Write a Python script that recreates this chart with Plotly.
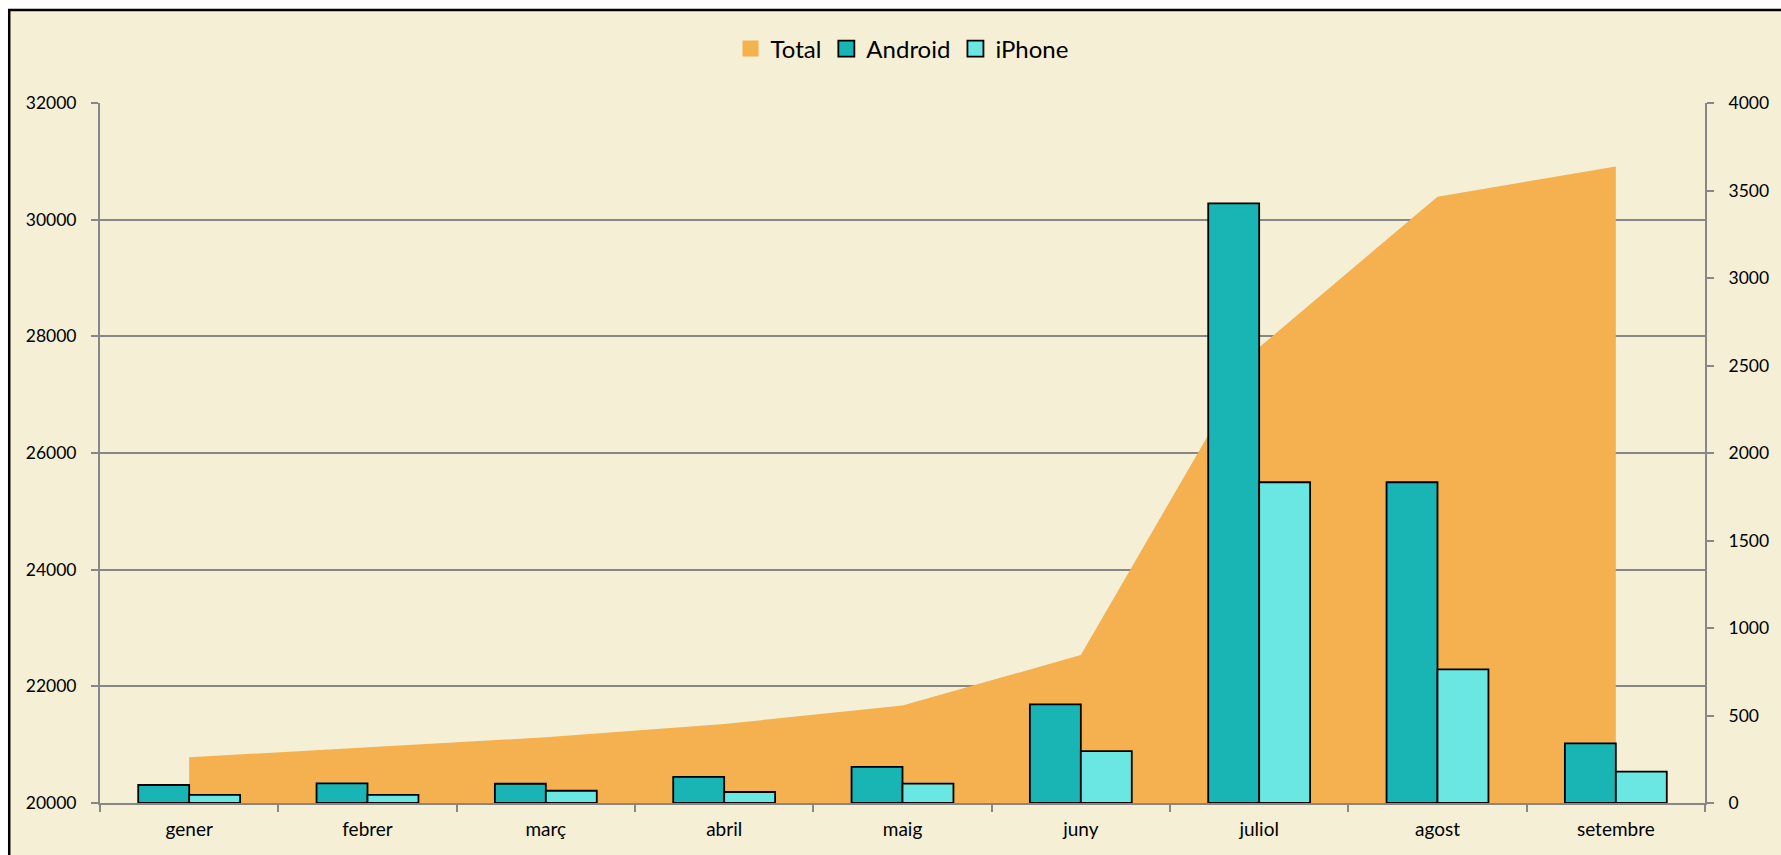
import plotly.graph_objects as go

months = ["gener", "febrer", "març", "abril", "maig", "juny", "juliol", "agost", "setembre"]
total = [20783, 20948, 21126, 21354, 21670, 22537, 27812, 30394, 30910]
android = [103, 112, 110, 149, 206, 564, 3427, 1833, 341]
iphone = [46, 46, 70, 63, 111, 297, 1833, 764, 179]

left_ticks = [20000, 22000, 24000, 26000, 28000, 30000, 32000]
left_labels = ["20000", "22000", "24000", "26000", "28000", "30000", "32000"]
right_ticks = [0, 500, 1000, 1500, 2000, 2500, 3000, 3500, 4000]
right_labels = ["0", "500", "1000", "1500", "2000", "2500", "3000", "3500", "4000"]

C_TOTAL = "#F5B050"
C_ANDROID = "#19B5B5"
C_IPHONE = "#6AE7E2"
BG = "#F5EFD5"
GRID = "#878787"

W, H = 1781, 855
L = 100
T = 103
R = W - 1709
B = H - 803
pw, ph = W - L - R, H - T - B


def px_x(p):
    return (p - L) / pw


def px_y(p):
    return ((H - B) - p) / ph


fig = go.Figure()

# Total area on left axis
fig.add_trace(go.Scatter(
    x=months, y=total, name="Total", mode="lines",
    fill="tozeroy", fillcolor=C_TOTAL, line=dict(width=0, color=C_TOTAL),
    showlegend=False, xaxis="x", yaxis="y", hoverinfo="x+y",
))
fig.add_trace(go.Bar(
    x=months, y=android, name="Android",
    marker=dict(color=C_ANDROID, line=dict(color="black", width=1.8)),
    xaxis="x", yaxis="y2", showlegend=False,
))
fig.add_trace(go.Bar(
    x=months, y=iphone, name="iPhone",
    marker=dict(color=C_IPHONE, line=dict(color="black", width=1.8)),
    xaxis="x", yaxis="y2", showlegend=False,
))

# legend entries (square swatches)
for name, col, lw in [("Total", C_TOTAL, 0), ("Android", C_ANDROID, 1.8), ("iPhone", C_IPHONE, 1.8)]:
    fig.add_trace(go.Scatter(
        x=[months[0]], y=[None], name=name, mode="markers",
        marker=dict(symbol="square", size=16, color=col, line=dict(color="black", width=lw)),
        xaxis="x", yaxis="y2", showlegend=True,
    ))

fig.update_layout(
    width=W, height=H, autosize=False,
    margin=dict(l=L, r=R, t=T, b=B, pad=0),
    paper_bgcolor="white",
    plot_bgcolor="rgba(0,0,0,0)",
    font=dict(family="Lato", size=19, color="black"),
    barmode="group", bargap=0.4286, bargroupgap=0,
    showlegend=True,
    legend=dict(
        orientation="h", x=px_x(904), xanchor="center", y=px_y(49), yanchor="middle",
        font=dict(size=24, color="black"), bgcolor="rgba(0,0,0,0)",
        traceorder="normal", itemclick=False, itemsizing="trace", itemwidth=30,
    ),
    xaxis=dict(
        type="category", tickson="boundaries", ticks="outside", ticklen=7,
        tickcolor=GRID, tickwidth=1.5, showline=True, linecolor=GRID, linewidth=2,
        showgrid=False, ticklabelstandoff=8, range=[-0.5, 8.5],
    ),
    yaxis=dict(
        range=[20000, 32000], tickvals=left_ticks, ticktext=left_labels,
        ticks="outside", ticklen=7, tickfont=dict(size=17.5),
        tickcolor=GRID, tickwidth=1.5, showline=True, linecolor=GRID, linewidth=2,
        showgrid=True, gridcolor=GRID, gridwidth=1.5, zeroline=False,
        ticklabelstandoff=11,
    ),
    yaxis2=dict(
        range=[0, 4000], tickvals=right_ticks, ticktext=right_labels,
        overlaying="y", side="right", tickfont=dict(size=17.5),
        ticks="outside", ticklen=7, tickcolor=GRID, tickwidth=1.5,
        showline=True, linecolor=GRID, linewidth=2, showgrid=False, zeroline=False,
        ticklabelstandoff=11,
    ),
    shapes=[dict(
        type="rect", xref="paper", yref="paper", layer="below",
        x0=px_x(9), x1=px_x(1800), y0=px_y(880), y1=px_y(10),
        fillcolor=BG, line=dict(color="black", width=2.5),
    )],
)

fig.write_html(
    "out.html",
    config={"displayModeBar": False},
    post_script="document.body.style.margin='0';document.body.style.overflow='hidden';",
)
